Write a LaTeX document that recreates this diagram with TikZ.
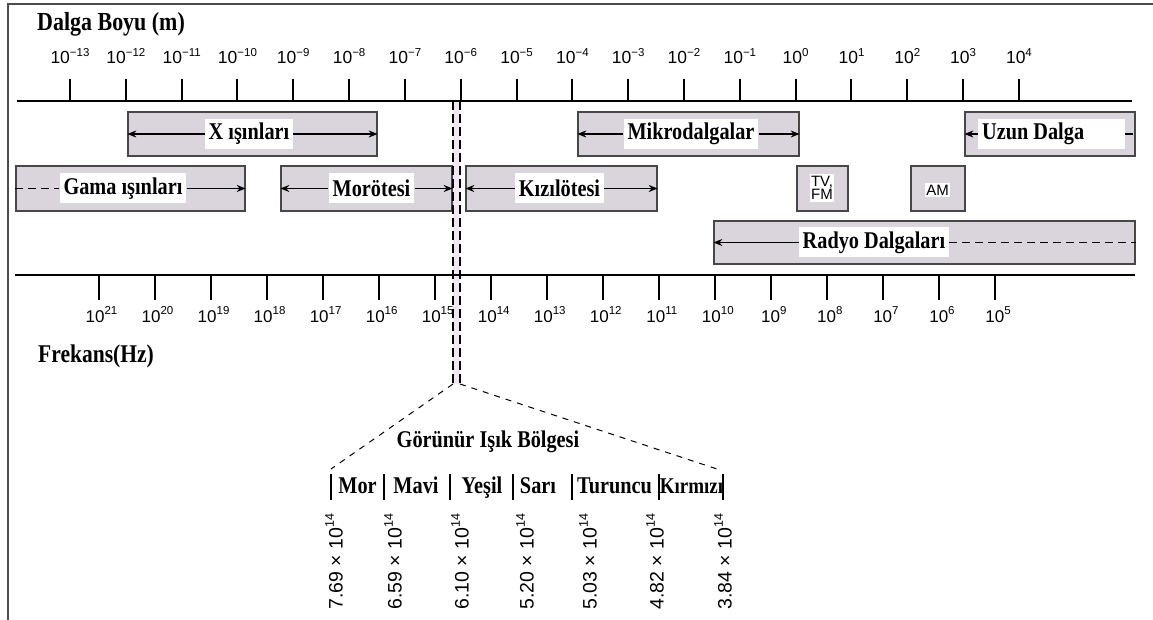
\documentclass[tikz,border=0pt]{standalone}
\usepackage{fontspec}
\setmainfont{Liberation Serif}
\newfontfamily\serc[FakeStretch=0.845]{Liberation Serif}
\newfontfamily\arialf{Liberation Sans}
\usetikzlibrary{arrows.meta}
\definecolor{bandgray}{RGB}{218,212,220}
\definecolor{pinkband}{RGB}{243,230,243}
\newcommand\tpow[2]{10\raisebox{0.45em}{\fontsize{#2}{#2}\selectfont #1}}
\begin{document}
\begin{tikzpicture}[x=1pt,y=-1pt,
  band/.style={draw=black!72, line width=1.3pt, fill=bandgray, inner sep=0pt, minimum height=44pt},
  lab/.style={fill=white, inner xsep=4pt, inner ysep=0pt, minimum height=30pt, font=\serc\fontsize{24}{28}\selectfont\bfseries},
  smalllab/.style={fill=white, inner xsep=1.5pt, inner ysep=2pt, font=\arialf\fontsize{15}{13.5}\selectfont, align=center},
  title/.style={inner sep=0pt, font=\serc\fontsize{24}{28}\selectfont\bfseries},
  arr/.style={line width=1.2pt, -{Stealth[length=9pt,width=7pt]}},
  dline/.style={line width=1.1pt, dash pattern=on 8pt off 5pt},
  vdash/.style={line width=1.2pt, dash pattern=on 9pt off 4pt},
  ddash/.style={line width=1pt, dash pattern=on 6pt off 6pt},
  axis/.style={line width=2.6pt},
  tick/.style={line width=2pt},
  toplab/.style={inner sep=0pt, anchor=base, font=\arialf\fontsize{17.5}{20}\selectfont},
  botlab/.style={inner sep=0pt, anchor=base, font=\arialf\fontsize{17}{19}\selectfont},
  vnum/.style={inner sep=0pt, rotate=90, anchor=west, font=\arialf\fontsize{19.5}{21}\selectfont}
]
\useasboundingbox (0,0) rectangle (1153,620);
% frame
\draw[line width=2pt, black!70] (8,620) -- (8,4) -- (1153,4);

% visible band
\fill[pinkband] (453,101) rectangle (460,384);

% titles
\node[title, anchor=base west, font=\serc\fontsize{26}{30}\selectfont\bfseries] (dalga) at (37,31) {Dalga Boyu (m)};
\node[title, anchor=base west, font=\serc\fontsize{25.5}{30}\selectfont\bfseries] (frek) at (38,362) {Frekans(Hz)};

% top axis
\draw[axis] (17,101) -- (1132,101);
\foreach \n [count=\k from 0] in {−13,−12,−11,−10,−9,−8,−7,−6,−5,−4,−3,−2,−1,0,1,2,3,4}{
  \pgfmathsetmacro\xx{70+55.82*\k}
  \draw[tick] (\xx,79) -- (\xx,101);
  \node[toplab] at (\xx,64) {\tpow{\n}{11.5}};
}
% bottom axis
\draw[axis] (15,275) -- (1135,275);
\foreach \n [count=\k from 0] in {21,20,19,18,17,16,15,14,13,12,11,10,9,8,7,6,5}{
  \pgfmathsetmacro\xx{98.5+56.03*\k}
  \draw[tick] (\xx,275) -- (\xx,300);
  \node[botlab] at (\xx+3,322) {\tpow{\n}{11.5}};
}

% bands row 1
\node[band, minimum width=249pt] (xb) at (252.5,134) {};
\node[band, minimum width=221pt] (mb) at (688.5,134) {};
\node[band, minimum width=170pt] (ub) at (1050,134) {};
% row 2
\node[band, minimum width=229pt, minimum height=45pt] (gb) at (130.5,188.5) {};
\node[band, minimum width=171pt, minimum height=45pt] (mob) at (366.5,188.5) {};
\node[band, minimum width=191pt, minimum height=45pt] (kb) at (561.5,188.5) {};
\node[band, minimum width=51pt, minimum height=45pt] (tvb) at (822.5,188.5) {};
\node[band, minimum width=54pt, minimum height=45pt] (amb) at (938,188.5) {};
% row 3
\node[band, minimum width=421pt, minimum height=43pt] (rb) at (924.5,242.5) {};

% labels
\node[lab] (xl) at (249,134) {X ışınları};
\node[lab] (ml) at (691,134) {Mikrodalgalar};
\node[lab, anchor=west] (ul) at (978,134) {\makebox[139pt][l]{Uzun Dalga}};
\node[lab] (gl) at (123,188.5) {Gama ışınları};
\node[lab] (mol) at (371.5,188.5) {Morötesi};
\node[lab] (kl) at (559.5,188.5) {Kızılötesi};
\node[smalllab] (tvl) at (822,188) {TV,\\FM};
\node[smalllab] (aml) at (937.5,190) {AM};
\node[lab] (rl) at (874,242.5) {Radyo Dalgaları};

% arrows
\draw[arr] (xl.west) -- (xb.west);
\draw[arr] (xl.east) -- (xb.east);
\draw[arr] (ml.west) -- (mb.west);
\draw[arr] (ml.east) -- (mb.east);
\draw[arr] (ul.west) -- (ub.west);
\draw[dline] (ul.east) -- (ub.east);
\draw[dline] (gb.west) -- (gl.west);
\draw[arr] (gl.east) -- (gb.east);
\draw[arr] (mol.west) -- (mob.west);
\draw[arr] (mol.east) -- (mob.east);
\draw[arr] (kl.west) -- (kb.west);
\draw[arr] (kl.east) -- (kb.east);
\draw[arr] (rl.west) -- (rb.west);
\draw[dline] (rl.east) -- (rb.east);

% visible region lines
\coordinate (v1t) at (453,101);
\coordinate (v1b) at (453,384);
\coordinate (v2t) at (460,101);
\coordinate (v2b) at (460,384);
\coordinate (dl) at (331,469);
\coordinate (dr) at (717,469);
\draw[vdash] (v1t) -- (v1b);
\draw[vdash] (v2t) -- (v2b);
\draw[ddash] (v1b) -- (dl);
\draw[ddash] (v2b) -- (dr);
\node[title, anchor=base] (gor) at (488,447) {Görünür Işık Bölgesi};

% colour names
\foreach \bx in {331,384,450,513,572,659,723}{
  \draw[line width=1.3pt] (\bx,474) -- (\bx,500);
}
\node[title, anchor=base] (cmor) at (357.5,493) {Mor};
\node[title, anchor=base] (cmav) at (416,493) {Mavi};
\node[title, anchor=base] (cyes) at (482,493) {Yeşil};
\node[title, anchor=base] (csar) at (538,493) {Sarı};
\node[title, anchor=base] (ctur) at (614.5,493) {Turuncu};
\node[title, anchor=base, font=\serc\fontsize{22.5}{26}\selectfont\bfseries] (ckir) at (691.5,493) {Kırmızı};

% frequencies
\foreach \xx/\v in {334/7.69,393/6.59,460/6.10,525/5.20,588/5.03,655/4.82,723/3.84}{
  \node[vnum] at (\xx,610) {\v\ × \tpow{14}{12.5}};
}
\end{tikzpicture}
\end{document}
